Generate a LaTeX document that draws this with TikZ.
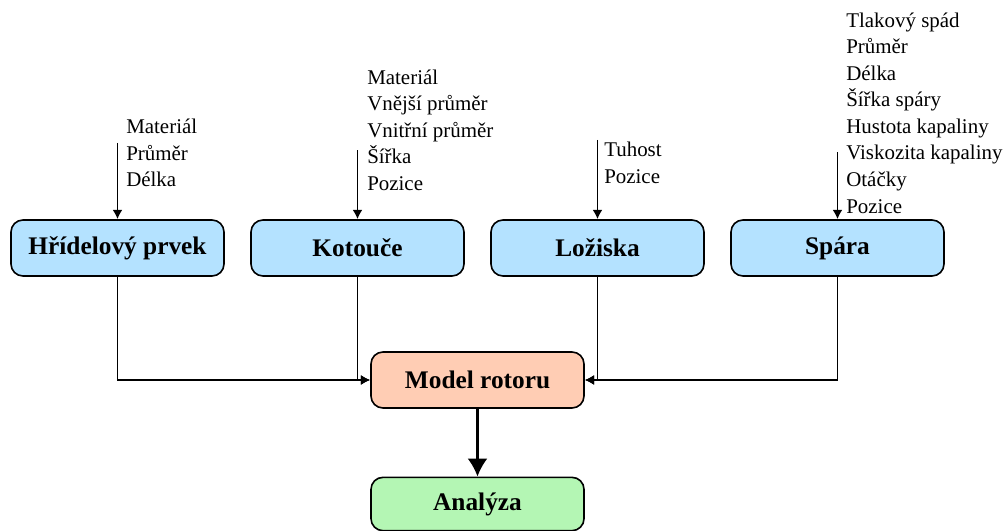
\documentclass[tikz,border=0pt]{standalone}
\usepackage{fontspec}
\setmainfont{Liberation Serif}
\usetikzlibrary{arrows.meta}

\definecolor{boxblue}{RGB}{180,226,255}
\definecolor{boxpeach}{RGB}{255,205,180}
\definecolor{boxgreen}{RGB}{180,246,180}

\tikzset{
    block/.style={draw, line width=1.2pt, rounded corners=9pt, minimum width=159.75pt,
        minimum height=42pt, font=\fontsize{19}{22}\selectfont\bfseries},
    params/.style={anchor=west, align=left, inner sep=0pt,
        font=\fontsize{15.7}{19.9}\selectfont},
    link/.style={line width=1.4pt, -{Latex[length=7pt,width=7.5pt]}},
    biglink/.style={line width=1.7pt, -{Latex[length=13.5pt,width=15pt]}}
}

\begin{document}
\begin{tikzpicture}[x=0.75pt, y=-0.75pt]

    \useasboundingbox (0, 0) rectangle (1005, 531);

    % Component blocks
    \node[block, fill=boxblue] (hridel) at (117.5, 248) {Hřídelový prvek};
    \node[block, fill=boxblue] (kotouce) at (357.5, 248) {Kotouče};
    \node[block, fill=boxblue] (loziska) at (597.5, 248) {Ložiska};
    \node[block, fill=boxblue] (spara) at (837.5, 248) {Spára};

    % Model and analysis
    \node[block, fill=boxpeach] (model) at (477.5, 380) {Model rotoru};
    \node[block, fill=boxgreen, minimum height=40pt] (analyza) at (477.5, 504) {Analýza};

    % Input parameters
    \node[params] (hridelpar) at (126, 153) {Materiál\\Průměr\\Délka};
    \node[params] (kotoucepar) at (367, 130) {Materiál\\Vnější průměr\\Vnitřní průměr\\Šířka\\Pozice};
    \node[params] (loziskapar) at (604, 163) {Tuhost\\Pozice};
    \node[params] (sparapar) at (846, 113) {Tlakový spád\\Průměr\\Délka\\Šířka spáry\\Hustota kapaliny\\Viskozita kapaliny\\Otáčky\\Pozice};

    % Input arrows
    \coordinate (hridelin) at (117.5, 143);
    \coordinate (kotoucein) at (357.5, 150);
    \coordinate (loziskain) at (597.5, 140);
    \coordinate (sparain) at (837.5, 152);
    \draw[link] (hridelin) -- (hridel.north);
    \draw[link] (kotoucein) -- (kotouce.north);
    \draw[link] (loziskain) -- (loziska.north);
    \draw[link] (sparain) -- (spara.north);

    % Blocks into the model
    \draw[link] (hridel.south) |- (model.west);
    \draw[link] (kotouce.south) |- (model.west);
    \draw[link] (loziska.south) |- (model.east);
    \draw[link] (spara.south) |- (model.east);

    % Model to analysis
    \draw[biglink] (model.south) -- (analyza.north);

\end{tikzpicture}
\end{document}
